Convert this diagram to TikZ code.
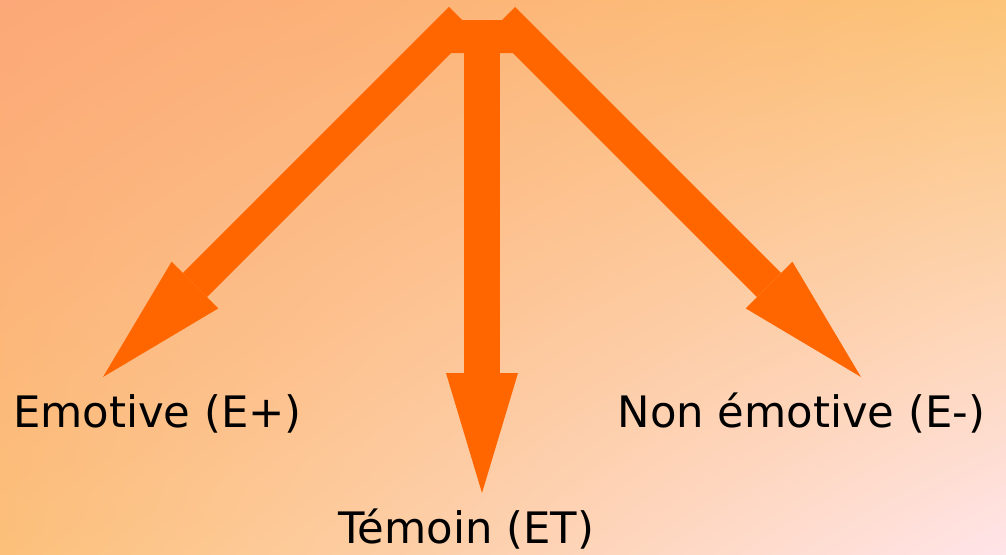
\documentclass[tikz,border=0pt]{standalone}
\usepackage{fontspec}
\setmainfont{DejaVu Sans}
\usepackage{tikz}
\usetikzlibrary{arrows.meta, positioning, shadings}
\definecolor{flame}{RGB}{255,102,0}
\definecolor{bgsalmon}{RGB}{252,168,120}
\definecolor{bgapricot}{RGB}{252,196,120}
\definecolor{bgpeach}{RGB}{252,192,122}
\definecolor{bgblush}{RGB}{255,228,232}

\begin{document}
\begin{tikzpicture}[x=0.75pt, y=-0.75pt,
   label/.style={anchor=base, inner sep=0pt, font=\fontsize{32.5}{39}\selectfont},
   diag/.style={draw=flame, line width=25.5pt,
                -{Triangle[length=97.5pt, width=49.5pt, line width=0pt]}},
   vert/.style={draw=flame, line width=27pt,
                -{Triangle[length=90pt, width=54pt, line width=0pt]}}]

  % background
  \shade[upper left=bgsalmon, upper right=bgapricot,
         lower left=bgpeach, lower right=bgblush] (0,0) rectangle (1006,554);
  \useasboundingbox (0,0) rectangle (1006,554);

  % labels
  \node[label] (emo) at (157.5,427) {Emotive (E+)};
  \node[label] (temoin) at (466.5,543) {Témoin (ET)};
  \node[label] (nonemo) at (801.5,427) {Non émotive (E-)};

  % arrow ends
  \coordinate (rootE) at (461,19);
  \coordinate (rootT) at (482,20);
  \coordinate (rootN) at (503,19);
  \coordinate (tipE) at (103,377);
  \coordinate (tipT) at (482,493);
  \coordinate (tipN) at (861,377);

  \fill[flame] (462,20) -- (502,20) -- (515,53) -- (450,53) -- cycle;
  \draw[vert] (rootT) -- (tipT);
  \draw[diag] (rootE) -- (tipE);
  \draw[diag] (rootN) -- (tipN);
\end{tikzpicture}
\end{document}
